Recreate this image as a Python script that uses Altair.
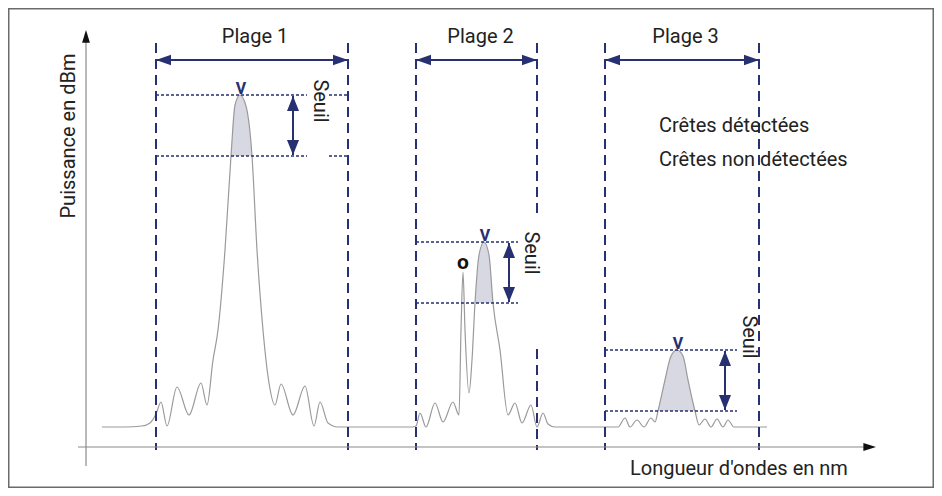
import altair as alt
import pandas as pd

NAVY = "#273172"
CURVE = "#9a9a9a"
FILL = "#d8d8e3"
TXT = "#222222"
FONT = "Roboto"

# ---- spectrum (wavelength offset, power) ----
wl = [16, 39, 56, 64, 70, 75, 81, 91, 103, 115, 121, 127, 132, 139, 145, 149, 154, 160, 166, 171,
      177, 183, 189, 195, 207, 219, 228, 234, 242, 252, 294, 326, 330, 334, 340, 349, 357, 367, 373, 375,
      377, 379, 383, 386, 389, 393, 398, 403, 407, 414, 422, 429, 436, 445, 451, 457, 462, 469, 504, 532,
      539, 544, 551, 558, 565, 569, 572, 579, 585, 591, 597, 602, 609, 613, 619, 625, 631, 637, 642, 648, 681]
pw = [20, 20, 21, 24, 33, 45, 21, 60, 32, 64, 42, 87, 117, 197, 291, 342, 352, 341, 291, 197,
      117, 64, 42, 63, 32, 61, 21, 45, 24, 20, 20, 20, 21, 34, 20, 44, 25, 45, 32, 117,
      175, 117, 54, 87, 144, 192, 205, 192, 144, 97, 32, 44, 24, 42, 20, 34, 23, 20, 20, 20,
      29, 20, 27, 20, 29, 25, 36, 67, 91, 97, 91, 67, 36, 22, 28, 20, 28, 20, 27, 20, 20]

# ---- ranges (plages) and thresholds ----
range_names = ["Plage 1", "Plage 2", "Plage 3"]
range_start = [70, 330, 519]
range_end = [262, 451, 673]
peak_top = [352, 205, 97]
thr_low = [291, 144, 36]
peak_x = [154, 398, 591]
cross_left = [145, 389, 572]
cross_right = [166, 407, 609]
seuil_arrow_x = [207, 423, 639]
dotted_end = [262, 432, 651]
seuil_label_x = [234, 445, 663]
seuil_label_y = [346, 194, 110]
undetected_x = [377]
undetected_y = [175]

xs = alt.Scale(domain=[-78, 848], nice=False, zero=False)
ys = alt.Scale(domain=[-41, 439], nice=False, zero=False)


def X(f):
    return alt.X(f"{f}:Q", scale=xs, axis=None)


def Y(f):
    return alt.Y(f"{f}:Q", scale=ys, axis=None)


spec = pd.DataFrame({"x": wl, "y": pw})

# shaded part of each detected peak (above its threshold)
area_rows = []
for i in range(3):
    for xv, yv in zip(wl, pw):
        if cross_left[i] <= xv <= cross_right[i]:
            area_rows.append({"x": xv, "y": yv, "y2": thr_low[i], "peak": i})
area_df = pd.DataFrame(area_rows)

area = alt.Chart(area_df).mark_area(color=FILL, opacity=1, interpolate="monotone").encode(
    x=X("x"), y=Y("y"), y2=alt.Y2("y2:Q"), detail="peak:N")
curve = alt.Chart(spec).mark_line(color=CURVE, strokeWidth=1.2, interpolate="monotone").encode(
    x=X("x"), y=Y("y"))

# dashed range borders (one border interrupted by the label)
dash_df = pd.DataFrame({
    "x": [70, 262, 330, 451, 451, 519, 673],
    "y": [404, 404, 404, 404, 98, 404, 404],
    "y2": [-3, -3, -3, 230, -3, -3, -3],
})
dashed = alt.Chart(dash_df).mark_rule(color=NAVY, strokeWidth=2, strokeDash=[10, 6]).encode(
    x=X("x"), y=Y("y"), y2=alt.Y2("y2:Q"))

# dotted threshold lines
dot_rows = []
for i in range(3):
    for yv in (peak_top[i], thr_low[i]):
        if i == 0:
            dot_rows.append({"x": range_start[i], "x2": 221, "y": yv})
            dot_rows.append({"x": 243, "x2": dotted_end[i], "y": yv})
        else:
            dot_rows.append({"x": range_start[i], "x2": dotted_end[i], "y": yv})
dotted = alt.Chart(pd.DataFrame(dot_rows)).mark_rule(color=NAVY, strokeWidth=1.5, strokeDash=[3, 2]).encode(
    x=X("x"), x2=alt.X2("x2:Q"), y=Y("y"))

# range arrows on top
top_df = pd.DataFrame({"x": range_start, "x2": range_end, "y": [387] * 3})
top_arrows = alt.Chart(top_df).mark_rule(color=NAVY, strokeWidth=2).encode(
    x=X("x"), x2=alt.X2("x2:Q"), y=Y("y"))

# threshold arrows
seuil_df = pd.DataFrame({"x": seuil_arrow_x, "y": [p - 1 for p in peak_top], "y2": [t + 1 for t in thr_low]})
seuil_arrows = alt.Chart(seuil_df).mark_rule(color=NAVY, strokeWidth=2).encode(
    x=X("x"), y=Y("y"), y2=alt.Y2("y2:Q"))

HEAD = "M0,0L-2,-0.7L-2,0.7Z"
HEADV = "M0,0L-2,-0.8L-2,0.8Z"
HEADK = "M0,0L-2,-0.62L-2,0.62Z"

hh_df = pd.DataFrame({
    "x": [70, 262, 330, 451, 519, 673],
    "y": [387] * 6,
    "a": [180, 0, 180, 0, 180, 0],
})
hv_df = pd.DataFrame({
    "x": [207, 207, 423, 423, 639, 639],
    "y": [351, 292, 204, 145, 96, 37],
    "a": [270, 90, 270, 90, 270, 90],
})
hk_df = pd.DataFrame({"x": [0, 790], "y": [417, 0], "a": [270, 0]})

heads_h = alt.Chart(hh_df).mark_point(shape=HEAD, filled=True, size=225, opacity=1, color=NAVY, strokeWidth=0).encode(
    x=X("x"), y=Y("y"), angle=alt.Angle("a:Q", scale=None))
heads_v = alt.Chart(hv_df).mark_point(shape=HEADV, filled=True, size=225, opacity=1, color=NAVY, strokeWidth=0).encode(
    x=X("x"), y=Y("y"), angle=alt.Angle("a:Q", scale=None))
heads_k = alt.Chart(hk_df).mark_point(shape=HEADK, filled=True, size=160, opacity=1, color="#111111", strokeWidth=0).encode(
    x=X("x"), y=Y("y"), angle=alt.Angle("a:Q", scale=None))

# axes lines
axv = alt.Chart(pd.DataFrame({"x": [0], "y": [-19], "y2": [406]})).mark_rule(color="#8a8a8a", strokeWidth=1.2).encode(
    x=X("x"), y=Y("y"), y2=alt.Y2("y2:Q"))
axh = alt.Chart(pd.DataFrame({"x": [-8], "x2": [780], "y": [0]})).mark_rule(color="#8a8a8a", strokeWidth=1.2).encode(
    x=X("x"), x2=alt.X2("x2:Q"), y=Y("y"))

# texts
plage_df = pd.DataFrame({"x": [169, 394.5, 599.5], "y": [404] * 3, "t": range_names})
plage_txt = alt.Chart(plage_df).mark_text(font=FONT, fontSize=20, color=TXT, align="center", baseline="alphabetic").encode(
    x=X("x"), y=Y("y"), text="t:N")

legend_df = pd.DataFrame({"x": [573, 573], "y": [315, 281], "t": ["Crêtes détectées", "Crêtes non détectées"]})
legend_txt = alt.Chart(legend_df).mark_text(font=FONT, fontSize=20, color=TXT, align="left", baseline="alphabetic").encode(
    x=X("x"), y=Y("y"), text="t:N")

xt_df = pd.DataFrame({"x": [544], "y": [-28], "t": ["Longueur d'ondes en nm"]})
xt_txt = alt.Chart(xt_df).mark_text(font=FONT, fontSize=20, color=TXT, align="left", baseline="alphabetic").encode(
    x=X("x"), y=Y("y"), text="t:N")

yt_df = pd.DataFrame({"x": [-11], "y": [311], "t": ["Puissance en dBm"]})
yt_txt = alt.Chart(yt_df).mark_text(font=FONT, fontSize=20, color=TXT, align="center", baseline="alphabetic", angle=270).encode(
    x=X("x"), y=Y("y"), text="t:N")

seuil_df2 = pd.DataFrame({"x": seuil_label_x, "y": seuil_label_y, "t": ["Seuil"] * 3})
seuil_txt = alt.Chart(seuil_df2).mark_text(font=FONT, fontSize=20, color=TXT, align="center", baseline="middle", angle=90).encode(
    x=X("x"), y=Y("y"), text="t:N")

v_df = pd.DataFrame({"x": [p + 1 for p in peak_x], "y": [p + 1 for p in peak_top], "t": ["v"] * 3})
v_txt = alt.Chart(v_df).mark_text(font=FONT, fontSize=22, fontWeight=500, color=NAVY, align="center", baseline="alphabetic").encode(
    x=X("x"), y=Y("y"), text="t:N")

o_df = pd.DataFrame({"x": undetected_x, "y": [u + 3 for u in undetected_y], "t": ["o"]})
o_txt = alt.Chart(o_df).mark_text(font=FONT, fontSize=21, fontWeight="bold", color="#111111", align="center", baseline="alphabetic").encode(
    x=X("x"), y=Y("y"), text="t:N")

chart = alt.layer(
    area, curve, dashed, dotted, top_arrows, seuil_arrows, axv, axh,
    heads_h, heads_v, heads_k,
    plage_txt, legend_txt, xt_txt, yt_txt, seuil_txt, v_txt, o_txt,
).properties(width=926, height=480, padding=0, autosize="none", background="white").configure_view(
    stroke="#6b6b6b", strokeWidth=3)

chart.save("out.html", embed_options={"renderer": "svg", "actions": False})
